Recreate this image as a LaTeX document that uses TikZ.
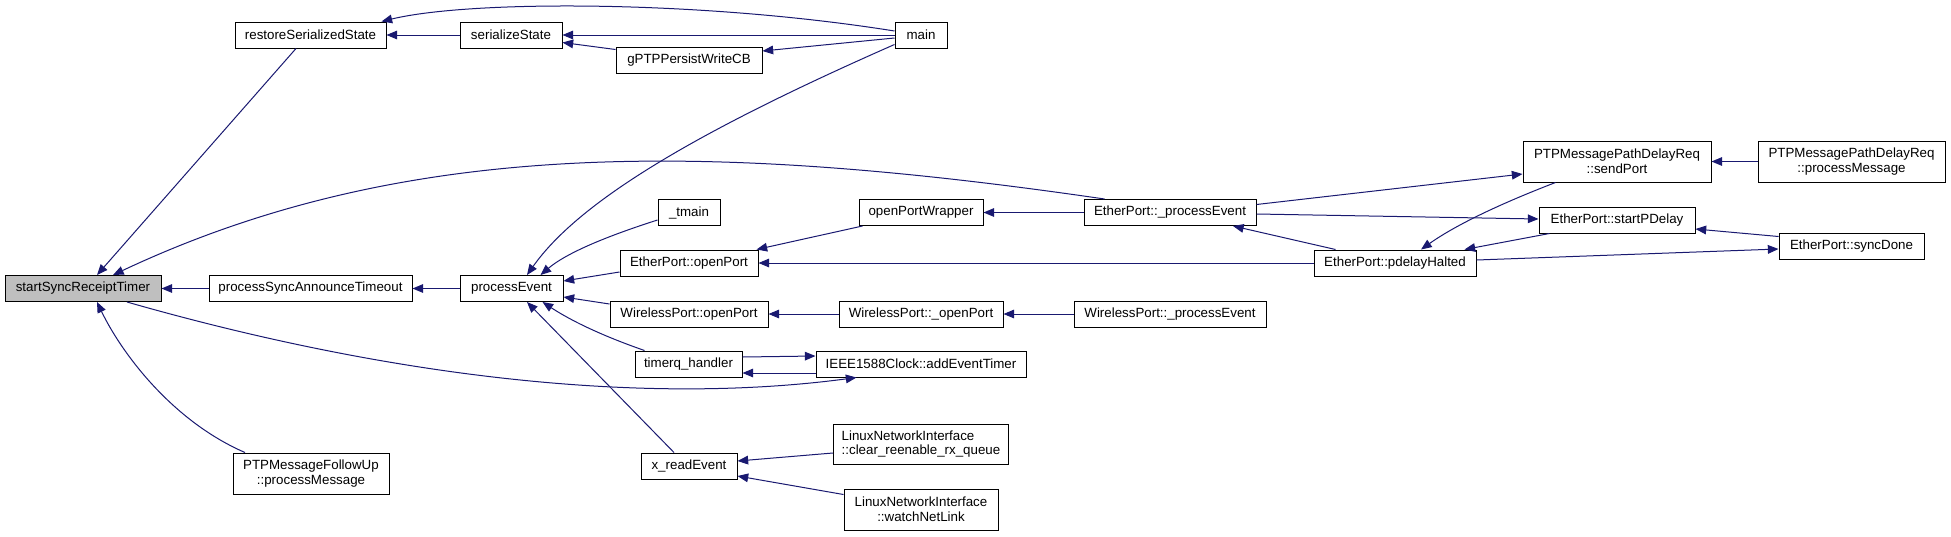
\documentclass[tikz,border=0pt]{standalone}
\usepackage{fontspec}
\setmainfont{Liberation Sans}
\usepackage{xcolor}
\usetikzlibrary{arrows.meta,calc}
\definecolor{edgeblue}{HTML}{191970}
\definecolor{focusgray}{HTML}{BFBFBF}

\begin{document}
\begin{tikzpicture}[x=0.75pt, y=-0.75pt,
    func/.style={rectangle, draw=black, fill=white, line width=0.75pt, inner sep=0pt, minimum height=19.5pt, font=\fontsize{10}{11}\selectfont, align=center},
    func2/.style={func, minimum height=30.75pt},
    call/.style={draw=edgeblue, line width=0.75pt, -{Triangle[length=8pt, width=6.5pt]}}]
    \useasboundingbox (0,0) rectangle (1951,536);

    % column 1
    \node[func, fill=focusgray, minimum width=117pt] (sync) at (83,288.5) {startSyncReceiptTimer};
    % column 2
    \node[func, minimum width=113.25pt] (restore) at (310.5,35) {restoreSerializedState};
    \node[func, minimum width=152.25pt] (timeout) at (310.5,288.5) {processSyncAnnounceTimeout};
    \node[func2, minimum width=117pt] (followup) at (311,473.5) {PTPMessageFollowUp\\::processMessage};
    % column 3
    \node[func, minimum width=76.5pt] (serialize) at (511,35) {serializeState};
    \node[func, minimum width=77.25pt] (procevent) at (511.5,288.5) {processEvent};
    % column 4
    \node[func, minimum width=109.5pt] (persist) at (689,60) {gPTPPersistWriteCB};
    \node[func, minimum width=46.5pt] (tmain) at (689,212.5) {\_tmain};
    \node[func, minimum width=103.5pt] (epopen) at (689,263) {EtherPort::openPort};
    \node[func, minimum width=118.5pt] (wpopen) at (689,314) {WirelessPort::openPort};
    \node[func, minimum width=80.25pt] (timerq) at (688.5,364) {timerq\_handler};
    \node[func, minimum width=72pt] (readevent) at (689,466) {x\_readEvent};
    % column 5
    \node[func, minimum width=39pt] (main) at (921,35) {main};
    \node[func, minimum width=93pt] (wrapper) at (921,212.5) {openPortWrapper};
    \node[func, minimum width=123pt] (wpopen2) at (921,314) {WirelessPort::\_openPort};
    \node[func, minimum width=157.5pt] (addtimer) at (921,364) {IEEE1588Clock::addEventTimer};
    \node[func2, minimum width=131.25pt, minimum height=30pt, align=left] (rxqueue) at (921,444) {LinuxNetworkInterface\\::clear\_reenable\_rx\_queue};
    \node[func2, minimum width=115.5pt] (netlink) at (921,509.5) {LinuxNetworkInterface\\::watchNetLink};
    % column 6
    \node[func, minimum width=129pt] (epevent) at (1170,212.5) {EtherPort::\_processEvent};
    \node[func, minimum width=144pt] (wpevent) at (1170,314) {WirelessPort::\_processEvent};
    % columns 7 to 9
    \node[func, minimum width=121.5pt] (halted) at (1395,263) {EtherPort::pdelayHalted};
    \node[func2, minimum width=141pt] (sendport) at (1617,161.5) {PTPMessagePathDelayReq\\::sendPort};
    \node[func, minimum width=117pt] (startpd) at (1617,220) {EtherPort::startPDelay};
    \node[func2, minimum width=140.25pt] (pdprocess) at (1851.5,161.5) {PTPMessagePathDelayReq\\::processMessage};
    \node[func, minimum width=108.75pt] (syncdone) at (1851.5,246) {EtherPort::syncDone};

    % callers of startSyncReceiptTimer
    \draw[call] ($(restore.south)+(-14.5,0)$) -- ($(sync.north)+(14,0)$);
    \draw[call] ($(epevent.north west)+(21,0)$) .. controls (700,140) and (400,140) .. ($(sync.north)+(30,0)$);
    \draw[call] (timeout) -- (sync);
    \draw[call] ($(followup.north)+(-66,0)$) .. controls (170,420) and (120,350) .. ($(sync.south)+(14,0)$);
    \draw[call] ($(sync.south)+(44,0)$) .. controls (400,380) and (650,405) .. ($(addtimer.south west)+(41,0)$);

    \draw[call] (serialize) -- (restore);
    \draw[call] ($(main.west)+(0,-4)$) .. controls (700,0) and (470,0) .. ($(restore.north east)+(-5,0)$);
    \draw[call] (main) -- (serialize);
    \draw[call] ($(persist.north west)+(0,3)$) -- ($(serialize.south east)+(0,-6)$);
    \draw[call] ($(main.west)+(0,3)$) -- ($(persist.east)+(0,-9)$);
    \draw[call] (procevent) -- (timeout);

    % callers of processEvent
    \draw[call] ($(main.south west)+(0,-4)$) .. controls (700,130) and (580,200) .. ($(procevent.north)+(15.5,0)$);
    \draw[call] ($(tmain.south west)+(0,-6)$) .. controls (620,232) and (570,250) .. ($(procevent.north)+(29,0)$);
    \draw[call] ($(epopen.west)+(0,9)$) -- ($(procevent.east)+(0,-7.5)$);
    \draw[call] ($(wpopen.west)+(0,-10)$) -- ($(procevent.east)+(0,8.5)$);
    \draw[call] ($(timerq.north west)+(10,0)$) .. controls (600,335) and (570,320) .. ($(procevent.south)+(31,0)$);
    \draw[call] ($(readevent.north)+(-15,0)$) -- ($(procevent.south)+(15.5,0)$);

    \draw[call] ($(wrapper.south west)+(4,0)$) -- ($(epopen.north east)+(-2,0)$);
    \draw[call] (epevent) -- (wrapper);
    \draw[call] (halted) -- (epopen);
    \draw[call] ($(epevent.east)+(0,-8)$) -- ($(sendport.west)+(0,12.5)$);
    \draw[call] ($(epevent.east)+(0,1.5)$) -- ($(startpd.west)+(0,-1)$);
    \draw[call] ($(halted.north west)+(22,0)$) -- ($(epevent.south)+(63,0)$);
    \draw[call] ($(sendport.south west)+(33,0)$) .. controls (1510,200) and (1460,222) .. ($(halted.north)+(26,0)$);
    \draw[call] ($(startpd.south west)+(11,0)$) -- ($(halted.north east)+(-12,0)$);
    \draw[call] ($(halted.east)+(0,-3)$) -- ($(syncdone.west)+(0,3)$);
    \draw[call] ($(syncdone.north west)+(0,4)$) -- ($(startpd.east)+(0,9)$);
    \draw[call] (pdprocess) -- (sendport);

    \draw[call] (wpopen2) -- (wpopen);
    \draw[call] (wpevent) -- (wpopen2);
    \draw[call] ($(timerq.east)+(0,-7)$) -- ($(addtimer.west)+(0,-8)$);
    \draw[call] ($(addtimer.west)+(0,9)$) -- ($(timerq.east)+(0,9)$);
    \draw[call] ($(rxqueue.west)+(0,9)$) -- ($(readevent.east)+(0,-5)$);
    \draw[call] ($(netlink.north west)+(0,6)$) -- ($(readevent.east)+(0,10)$);
\end{tikzpicture}
\end{document}
